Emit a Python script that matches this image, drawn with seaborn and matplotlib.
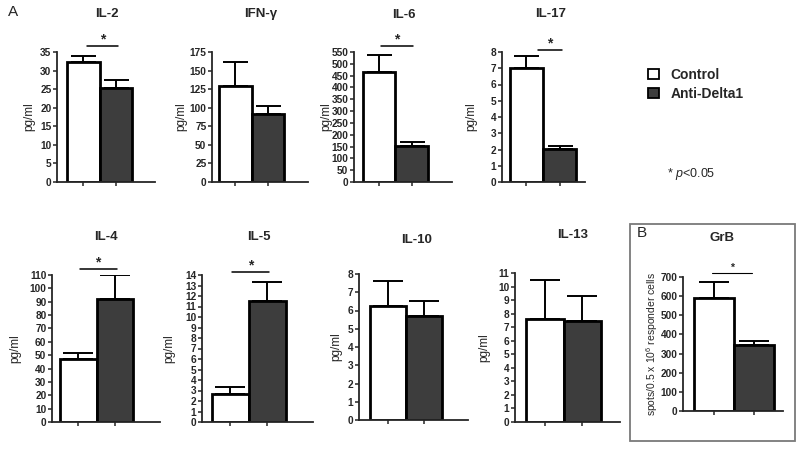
"""Cytokine panels: Control vs Anti-Delta1 (seaborn bar charts)."""

import matplotlib
matplotlib.use("Agg")
import matplotlib.pyplot as plt
import numpy as np
import seaborn as sns
from matplotlib.patches import Patch, Rectangle

sns.set_style("ticks")
plt.rcParams["font.family"] = ["Liberation Sans", "DejaVu Sans"]
plt.rcParams["mathtext.fontset"] = "custom"
plt.rcParams["mathtext.rm"] = "Liberation Sans"
plt.rcParams["mathtext.it"] = "Liberation Sans:italic"

# ---- data ----
groups = ["Control", "Anti-Delta1"]
panels = ["IL-2", "IFN-γ", "IL-6", "IL-17", "IL-4", "IL-5", "IL-10", "IL-13", "GrB"]
control_mean = [32.3, 128.8, 465, 7.02, 47.5, 2.7, 6.25, 7.6, 588]
control_err = [1.6, 32.7, 71, 0.74, 3.8, 0.6, 1.37, 2.87, 86]
anti_mean = [25.4, 91, 152, 2.06, 92, 11.56, 5.68, 7.48, 344]
anti_err = [2.0, 11, 19, 0.18, 18, 1.8, 0.84, 1.85, 24]
y_max = [35, 175, 550, 8, 110, 14, 8, 11, 700]
y_step = [5, 25, 50, 1, 10, 1, 1, 1, 100]
significant = [True, False, True, True, True, True, False, False, True]

# ---- layout in reference pixels ----
W, H = 800, 450
# (axis x, axis right end, top tick y, zero y)
boxes = [(57, 155, 52, 182), (212, 308, 52, 182), (354, 452, 52, 182),
         (502, 585, 52, 182), (52, 160, 275, 422), (202, 313, 275, 422),
         (359, 468, 274, 420), (515, 620, 273, 422), (683, 783, 277, 411)]
xlims = [(-0.81, 2.21), (-0.71, 2.23), (-0.77, 2.23), (-0.74, 1.77),
         (-0.72, 2.24), (-0.77, 2.23), (-0.80, 2.22), (-0.79, 2.0), (-0.78, 1.72)]
title_xy = [(107, 14), (261, 14), (404, 15), (551, 14), (106, 237),
            (259, 237), (417, 240), (573, 235), (722, 238)]
ylabel_x = [29, 181, 326, 471, 15, 169, 336, 484, 652]
# significance line: (x start, x end in bar units, pixels above top tick)
sig_pos = [(0.1, 1.07, 6), None, (0.05, 1.05, 6), (0.35, 1.07, 2),
           (0.04, 1.05, 6), (0.04, 1.04, 3), None, None, (-0.05, 0.95, 4)]

colors = ["white", "#3d3d3d"]

fig = plt.figure(figsize=(W / 100, H / 100), dpi=100)


def px_rect(x0, x1, ytop, ybot):
    return [x0 / W, 1 - ybot / H, (x1 - x0) / W, (ybot - ytop) / H]


for i, name in enumerate(panels):
    x0, x1, ytop, ybot = boxes[i]
    ax = fig.add_axes(px_rect(x0, x1, ytop, ybot))
    vals = [control_mean[i], anti_mean[i]]
    errs = [control_err[i], anti_err[i]]
    small = i >= 4
    sns.barplot(x=groups, y=vals, hue=groups, palette=colors, width=1.0,
                edgecolor="black", linewidth=2.0, legend=False, ax=ax,
                errorbar=None)
    ax.errorbar([0, 1], vals, yerr=[[0, 0], errs], fmt="none", ecolor="black",
                elinewidth=1.4, capthick=1.4, capsize=11 if small else 9,
                zorder=0)
    ax.set_xlim(*xlims[i])
    ax.set_ylim(0, y_max[i])
    ax.set_yticks(np.arange(0, y_max[i] + y_step[i] / 2, y_step[i]))
    ax.set_xticks([0, 1])
    ax.set_xticklabels(["", ""])
    ax.set_xlabel("")
    ax.set_ylabel("")
    for s in ["top", "right"]:
        ax.spines[s].set_visible(False)
    for s in ["left", "bottom"]:
        ax.spines[s].set_linewidth(1.3)
    ax.tick_params(axis="y", length=3, width=1.1, pad=1, labelsize=7.3)
    ax.tick_params(axis="x", length=3, width=1.1)
    for lab in ax.get_yticklabels():
        lab.set_fontweight("bold")

    fig.text(title_xy[i][0] / W, 1 - title_xy[i][1] / H, name, ha="center",
             va="center", fontsize=9.5, fontweight="bold")
    ylab = "pg/ml" if name != "GrB" else "spots/0.5 x 10$^{6}$ responder cells"
    fig.text(ylabel_x[i] / W, 1 - (ytop + ybot) / 2 / H, ylab, rotation=90,
             ha="center", va="center", fontsize=8.5 if name != "GrB" else 7.5)

    if significant[i]:
        xs, xe, up = sig_pos[i]
        yfrac = 1 + up / (ybot - ytop)
        trans = ax.get_xaxis_transform()
        lw = 0.8 if name == "GrB" else 1.1
        ax.plot([xs, xe], [yfrac, yfrac], color="black", lw=lw,
                transform=trans, clip_on=False)
        ax.text((xs + xe) / 2, yfrac, "*", transform=trans, ha="center",
                va="bottom", fontsize=7.5 if name == "GrB" else 10,
                fontweight="bold")

# panel letters, GrB frame, legend, p-value note
fig.text(13 / W, 1 - 12 / H, "A", ha="center", va="center", fontsize=11)
fig.text(642 / W, 1 - 233 / H, "B", ha="center", va="center", fontsize=11)
fig.patches.append(Rectangle((630 / W, 1 - 441 / H), 165 / W, 217 / H,
                             transform=fig.transFigure, fill=False,
                             edgecolor="#7a7a7a", lw=1.3))

handles = [Patch(facecolor=c, edgecolor="black", linewidth=1.3) for c in colors]
fig.legend(handles, groups, loc="upper left",
           bbox_to_anchor=(648 / W, 1 - 68 / H), frameon=False,
           prop={"weight": "bold", "size": 10}, handlelength=0.8,
           handleheight=0.8, handletextpad=0.8, labelspacing=0.35,
           borderaxespad=0, borderpad=0)
fig.text(667 / W, 1 - 174 / H, "* $\\mathit{p}$<0.05", ha="left", va="center",
         fontsize=9)

fig.savefig("out.png", dpi=100)
